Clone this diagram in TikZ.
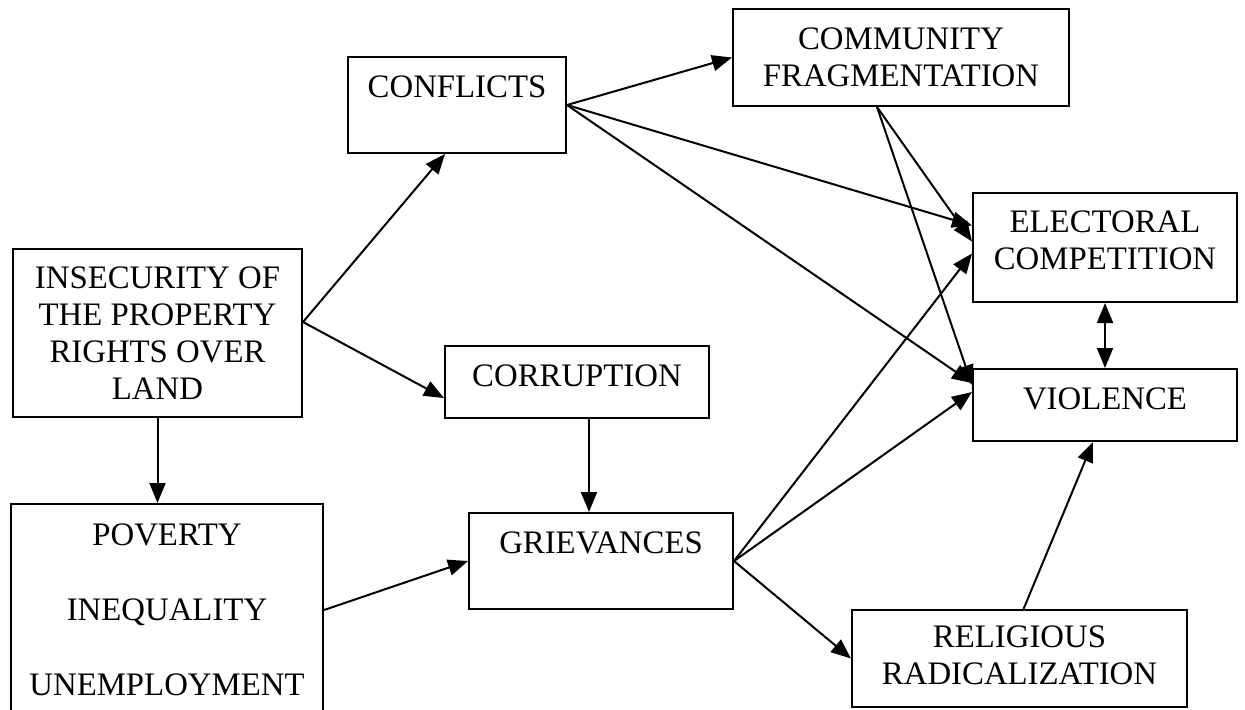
\documentclass[tikz,border=0pt]{standalone}
\usepackage{fontspec}
\setmainfont{Liberation Serif}
\usetikzlibrary{arrows.meta}

\begin{document}
\begin{tikzpicture}[x=0.5pt, y=-0.5pt,
    box/.style={draw, line width=1pt, align=center, inner sep=0pt,
        font=\fontsize{16.4pt}{18.5pt}\selectfont},
    link/.style={line width=1pt, -{Triangle[length=10pt,width=8pt]}}]
    \useasboundingbox (0,0) rectangle (1245,709);

    % Draw the boxes
    \node[box, minimum width=144.5pt, minimum height=84pt] (ins) at (157.5,333)
        {INSECURITY OF\\THE PROPERTY\\RIGHTS OVER\\LAND};
    \node[box, minimum width=156pt, minimum height=106pt] (pov) at (167,610)
        {POVERTY\\[19pt]INEQUALITY\\[19pt]UNEMPLOYMENT};
    \node[box, minimum width=109pt, minimum height=48pt] (conf) at (457,105)
        {CONFLICTS\\\mbox{}};
    \node[box, minimum width=132pt, minimum height=36pt, text depth=6pt] (corr) at (577,382)
        {CORRUPTION};
    \node[box, minimum width=132pt, minimum height=48pt] (griev) at (601,561)
        {GRIEVANCES\\\mbox{}};
    \node[box, minimum width=168pt, minimum height=48.5pt] (comm) at (901,57.5)
        {COMMUNITY\\FRAGMENTATION};
    \node[box, minimum width=132pt, minimum height=54.5pt] (elec) at (1105,247.5)
        {ELECTORAL\\COMPETITION\\[-11pt]\mbox{}};
    \node[box, minimum width=132pt, minimum height=36pt, text depth=6pt] (viol) at (1105,405)
        {VIOLENCE};
    \node[box, minimum width=167.5pt, minimum height=48.5pt] (rel) at (1019.5,658.5)
        {RELIGIOUS\\RADICALIZATION\\[-15.5pt]\mbox{}};

    % Draw the arrows out of the land box
    \draw[link] ([yshift=5.5pt]ins.east) -- ([xshift=-6pt]conf.south);
    \draw[link] ([yshift=5.5pt]ins.east) -- ([yshift=-8pt]corr.west);
    \draw[link] (ins.south) -- (ins.south |- pov.north);

    % Draw the arrows towards grievances
    \draw[link] ([xshift=6pt]corr.south) -- ([xshift=6pt]corr.south |- griev.north);
    \draw[link] (pov.east) -- (griev.west);

    % Draw the arrows out of conflicts
    \draw[link] (conf.east) -- (comm.west);
    \draw[link] (conf.east) -- ([yshift=11pt]elec.west);
    \draw[link] (conf.east) -- ([yshift=11pt]viol.west);

    % Draw the arrows out of fragmentation
    \draw[link] ([xshift=-12pt]comm.south) -- ([yshift=3pt]elec.west);
    \draw[link] ([xshift=-12pt]comm.south) -- ([yshift=10pt]viol.west);

    % Draw the arrows out of grievances
    \draw[link] (griev.east) -- ([yshift=-3pt]elec.west);
    \draw[link] (griev.east) -- ([yshift=6.5pt]viol.west);
    \draw[link] (griev.east) -- (rel.west);

    % Draw the arrows into violence
    \draw[link] ([xshift=2pt]rel.north) -- ([xshift=-6pt]viol.south);
    \draw[link, {Triangle[length=10pt,width=8pt]}-{Triangle[length=10pt,width=8pt]}]
        (elec.south) -- (viol.north);

\end{tikzpicture}
\end{document}
